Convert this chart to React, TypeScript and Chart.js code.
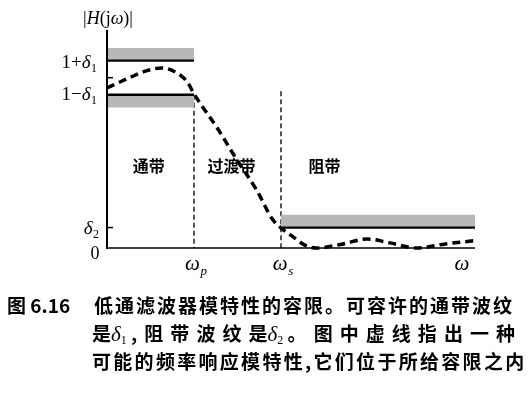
import React, { useEffect, useRef } from "react";
import { Chart, registerables } from "chart.js";

Chart.register(...registerables);

// ---- data (normalised frequency: ωp = 1, ωs = 2) ----
const X_MAX = 4.23;
const Y_MAX = 1.28;
const OMEGA_P = 1;
const OMEGA_S = 2;
const DELTA1 = 0.1;
const DELTA2 = 0.12;
const BAND = 0.075;
const WS_LINE_TOP = 0.92;

const responseX = [0, 0.26, 0.45, 0.63, 0.84, 0.93, 1.0, 1.26, 1.49, 1.72, 1.9, 2.0, 2.14, 2.28, 2.41, 2.68, 2.99, 3.25, 3.56, 3.89, 4.21];
const responseY = [0.94, 1.0, 1.04, 1.057, 1.016, 0.97, 0.905, 0.71, 0.52, 0.34, 0.17, 0.118, 0.065, 0.015, 0.0, 0.02, 0.053, 0.03, 0.0, 0.024, 0.042];

const regionLabels = ["通带", "过渡带", "阻带"];
const regionX = [0.48, 1.43, 2.5];
const regionY = 0.48;

const yTickValues = [1, DELTA2];

const captionTitle = "图 6.16";
const captionLine1 = "低通滤波器模特性的容限。可容许的通带波纹";
const captionLine3 = "可能的频率响应模特性,它们位于所给容限之内";

type Seg = { t: string; it?: boolean; sub?: boolean };
const SERIF = '"Liberation Serif", "DejaVu Serif", serif';

function drawMath(ctx: CanvasRenderingContext2D, segs: Seg[], x: number, cy: number, align: "left" | "right" | "center", size: number) {
  const fontOf = (s: Seg) => `${s.it ? "italic " : ""}${s.sub ? Math.round(size * 0.62) : size}px ${SERIF}`;
  const widths = segs.map((s) => {
    ctx.font = fontOf(s);
    return ctx.measureText(s.t).width + (s.sub ? 0.5 : 0);
  });
  const total = widths.reduce((a, b) => a + b, 0);
  let cx = align === "left" ? x : align === "right" ? x - total : x - total / 2;
  const base = cy + size * 0.33;
  ctx.textAlign = "left";
  ctx.textBaseline = "alphabetic";
  ctx.fillStyle = "#000";
  segs.forEach((s, i) => {
    ctx.font = fontOf(s);
    ctx.fillText(s.t, cx + (s.sub ? 0.5 : 0), s.sub ? base + size * 0.22 : base);
    cx += widths[i];
  });
}

const GRAY = "#b8b8b8";

export default function App() {
  const ref = useRef<HTMLCanvasElement | null>(null);

  useEffect(() => {
    if (!ref.current) return;
    const line = (pts: { x: number; y: number }[], extra: any) => ({
      data: pts,
      pointRadius: 0,
      borderColor: "#000",
      borderWidth: 2,
      fill: false,
      tension: 0,
      clip: false,
      ...extra,
    });
    const datasets: any[] = [
      line([{ x: 0, y: 1 + DELTA1 }, { x: OMEGA_P, y: 1 + DELTA1 }], { borderWidth: 2.2 }),
      line([{ x: 0, y: 1 + DELTA1 + BAND }, { x: OMEGA_P, y: 1 + DELTA1 + BAND }], { borderWidth: 0, fill: "-1", backgroundColor: GRAY }),
      line([{ x: 0, y: 1 - DELTA1 }, { x: OMEGA_P, y: 1 - DELTA1 }], { borderWidth: 2.5 }),
      line([{ x: 0, y: 1 - DELTA1 - BAND }, { x: OMEGA_P, y: 1 - DELTA1 - BAND }], { borderWidth: 0, fill: "-1", backgroundColor: GRAY }),
      line([{ x: OMEGA_S, y: DELTA2 }, { x: X_MAX, y: DELTA2 }], { borderWidth: 2.2 }),
      line([{ x: OMEGA_S, y: DELTA2 + BAND }, { x: X_MAX, y: DELTA2 + BAND }], { borderWidth: 0, fill: "-1", backgroundColor: GRAY }),
      line([{ x: OMEGA_P, y: 1 - DELTA1 }, { x: OMEGA_P, y: 0 }], { borderWidth: 1.3, borderDash: [5, 3] }),
      line([{ x: OMEGA_S, y: WS_LINE_TOP }, { x: OMEGA_S, y: 0 }], { borderWidth: 1.3, borderDash: [5, 3] }),
      line(responseX.map((x, i) => ({ x, y: responseY[i] })), {
        borderWidth: 3.5,
        borderDash: [8, 5],
        cubicInterpolationMode: "monotone",
      }),
    ];

    const overlay = {
      id: "overlay",
      afterDatasetsDraw(chart: any) {
        const ctx: CanvasRenderingContext2D = chart.ctx;
        const xs = chart.scales.x;
        const ys = chart.scales.y;
        const px = (v: number) => xs.getPixelForValue(v);
        const py = (v: number) => ys.getPixelForValue(v);
        ctx.save();
        ctx.strokeStyle = "#000";
        // y axis
        ctx.lineWidth = 2;
        ctx.beginPath();
        ctx.moveTo(px(0), py(Y_MAX));
        ctx.lineTo(px(0), py(0) + 1);
        ctx.stroke();
        // x axis
        ctx.lineWidth = 1.5;
        ctx.beginPath();
        ctx.moveTo(px(0) - 1, py(0));
        ctx.lineTo(px(X_MAX), py(0));
        ctx.stroke();
        // y ticks
        ctx.lineWidth = 1.5;
        yTickValues.forEach((v) => {
          ctx.beginPath();
          ctx.moveTo(px(0), py(v));
          ctx.lineTo(px(0) + 6, py(v));
          ctx.stroke();
        });
        // math labels
        const yl = px(0) - 10;
        drawMath(ctx, [{ t: "1+" }, { t: "δ", it: true }, { t: "1", sub: true }], yl, py(1 + DELTA1) + 1, "right", 19);
        drawMath(ctx, [{ t: "1−" }, { t: "δ", it: true }, { t: "1", sub: true }], yl, py(1 - DELTA1) - 1, "right", 19);
        drawMath(ctx, [{ t: "δ", it: true }, { t: "2", sub: true }], yl + 2, py(DELTA2), "right", 19);
        drawMath(ctx, [{ t: "0" }], px(0) - 12, py(0) + 5, "center", 18);
        drawMath(ctx, [{ t: "ω", it: true }, { t: "p", it: true, sub: true }], px(OMEGA_P) + 2, py(0) + 15, "center", 21);
        drawMath(ctx, [{ t: "ω", it: true }, { t: "s", it: true, sub: true }], px(OMEGA_S) + 2, py(0) + 15, "center", 21);
        drawMath(ctx, [{ t: "ω", it: true }], px(4.08), py(0) + 15, "center", 21);
        drawMath(ctx, [{ t: "|" }, { t: "H", it: true }, { t: "(j" }, { t: "ω", it: true }, { t: ")|" }], px(0) + 1, py(Y_MAX) - 12, "center", 18);
        // region labels
        ctx.font = `bold 16px "Noto Sans CJK SC", sans-serif`;
        ctx.textAlign = "center";
        ctx.textBaseline = "middle";
        ctx.fillStyle = "#000";
        regionLabels.forEach((t, i) => {
          ctx.fillText(t, px(regionX[i]), py(regionY));
        });
        ctx.restore();
      },
    };

    const chart = new Chart(ref.current, {
      type: "line",
      data: { datasets },
      options: {
        animation: false,
        responsive: false,
        maintainAspectRatio: false,
        layout: { padding: { left: 107, right: 55, top: 30, bottom: 149 } },
        plugins: { legend: { display: false }, tooltip: { enabled: false } },
        scales: {
          x: { type: "linear", min: 0, max: X_MAX, display: false },
          y: { type: "linear", min: 0, max: Y_MAX, display: false },
        },
      },
      plugins: [overlay],
    });
    return () => chart.destroy();
  }, []);

  const cjk = '"Noto Sans CJK SC", sans-serif';
  const lineStyle: React.CSSProperties = {
    position: "absolute",
    fontFamily: cjk,
    fontSize: 19,
    lineHeight: "28px",
    whiteSpace: "nowrap",
    color: "#000",
    fontWeight: 700,
  };
  const delta = (n: string) => (
    <>
      <i style={{ fontFamily: SERIF, fontSize: 21, fontWeight: 400 }}>δ</i>
      <sub style={{ fontFamily: SERIF, fontSize: 12, verticalAlign: "-3px", fontWeight: 400 }}>{n}</sub>
    </>
  );
  const line2Items: React.ReactNode[] = [
    <span key="a">
      是{delta("1")} ,
    </span>,
    ...["阻", "带", "波", "纹"].map((c) => <span key={c}>{c}</span>),
    <span key="b">
      是{delta("2")} 。
    </span>,
    ...["图", "中", "虚", "线", "指", "出", "一", "种"].map((c, i) => <span key={"c" + i}>{c}</span>),
  ];

  return (
    <div style={{ position: "fixed", left: 0, top: 0, width: 530, height: 397, background: "#fff", overflow: "hidden" }}>
      <canvas ref={ref} width={530} height={397} style={{ position: "absolute", left: 0, top: 0, width: 530, height: 397 }} />
      <div style={{ ...lineStyle, left: 7, top: 291 }}>{captionTitle}</div>
      <div style={{ ...lineStyle, left: 94, top: 291, letterSpacing: "2px" }}>{captionLine1}</div>
      <div style={{ ...lineStyle, left: 92, top: 319, width: 423, display: "flex", justifyContent: "space-between" }}>
        {line2Items}
      </div>
      <div style={{ ...lineStyle, left: 92, top: 347, letterSpacing: "2.3px" }}>{captionLine3}</div>
    </div>
  );
}
